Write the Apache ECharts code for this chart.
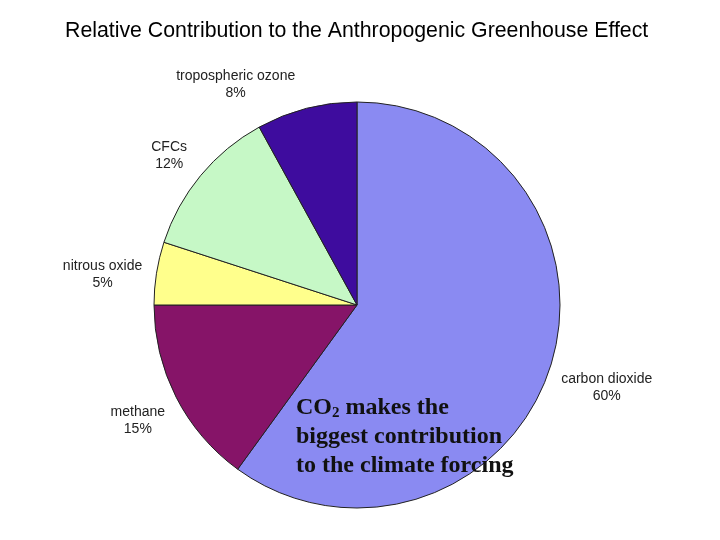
<!DOCTYPE html>
<html><head><meta charset="utf-8">
<script src="https://cdn.jsdelivr.net/npm/echarts@6/dist/echarts.min.js"></script>
<style>html,body{margin:0;padding:0;background:#fff}#c{width:720px;height:540px}</style>
</head><body><div id="c"></div>
<script>
const titleText = 'Relative Contribution to the Anthropogenic Greenhouse Effect';
const categories = ['carbon dioxide', 'methane', 'nitrous oxide', 'CFCs', 'tropospheric ozone'];
const values = [60, 15, 5, 12, 8];
const sliceColors = ['#8a8af2', '#861468', '#ffff8c', '#c6f8c6', '#3e0c9e'];
const noteLines = ['makes the', 'biggest contribution', 'to the climate forcing'];

const CX = 357, CY = 305, R = 203, GAP = 11;
// manual label nudges (pixels), as in the original where some labels were dragged
const labelNudge = [[0, 2], [0, 4], [-2, 10], [-4, 3], [-62, 11]];

const total = values.reduce((a, b) => a + b, 0);
const midAngles = [];
{ let acc = 0; values.forEach(v => { midAngles.push((acc + v / 2) / total * 2 * Math.PI); acc += v; }); }

const chart = echarts.init(document.getElementById('c'), null, { renderer: 'canvas' });
chart.setOption({
  backgroundColor: '#fff',
  animation: false,
  title: {
    text: titleText, left: 60, top: 16,
    textStyle: { fontFamily: 'Liberation Sans', fontSize: 21.3, fontWeight: 'normal', color: '#000' }
  },
  series: [{
    type: 'pie',
    center: [CX, CY],
    radius: R,
    startAngle: 90,
    clockwise: true,
    avoidLabelOverlap: false,
    data: categories.map((n, i) => ({ name: n, value: values[i], itemStyle: { color: sliceColors[i] } })),
    itemStyle: { borderColor: '#222', borderWidth: 1 },
    label: {
      show: true, position: 'outside',
      formatter: '{b}\n{c}%',
      fontFamily: 'Liberation Sans', fontSize: 14, lineHeight: 17, color: '#222'
    },
    labelLine: { show: false, length: 22, length2: 0 },
    labelLayout: function (p) {
      const r = p.labelRect;
      const a = midAngles[p.dataIndex];
      const dx = Math.sin(a), dy = -Math.cos(a);
      const sx = Math.sign(dx) * r.width / 2, sy = Math.sign(dy) * r.height / 2;
      const ds = dx * sx + dy * sy;
      const D = R + GAP;
      const t = ds + Math.sqrt(Math.max(0, ds * ds - (sx * sx + sy * sy) + D * D));
      const n = labelNudge[p.dataIndex];
      return { x: CX + dx * t + n[0], y: CY + dy * t + n[1], align: 'center', verticalAlign: 'middle' };
    },
    emphasis: { disabled: true }
  }],
  graphic: [{
    type: 'text', left: 296, top: 394, z: 100,
    style: {
      text: '{a|CO}{s|2}{a| ' + noteLines[0] + '}\n{a|' + noteLines[1] + '}\n{a|' + noteLines[2] + '}',
      rich: {
        a: { fontFamily: 'Liberation Serif', fontWeight: 'bold', fontSize: 24, lineHeight: 29, fill: '#111' },
        s: { fontFamily: 'Liberation Serif', fontWeight: 'bold', fontSize: 15, lineHeight: 29, fill: '#111', padding: [12, 0, 0, 0] }
      }
    }
  }]
});
</script></body></html>
